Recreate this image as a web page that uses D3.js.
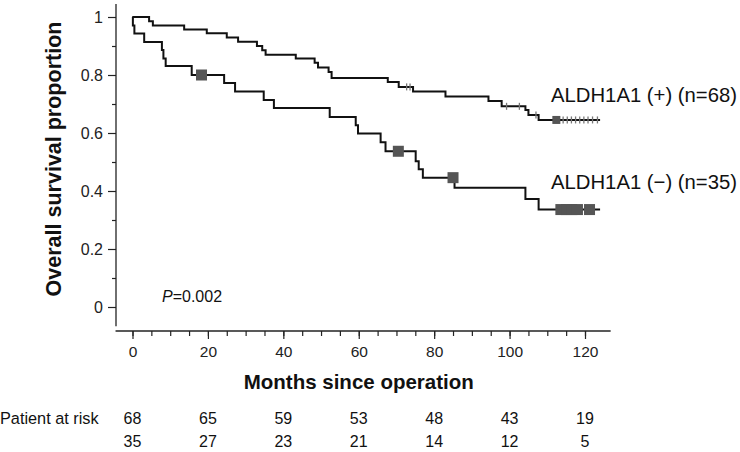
<!DOCTYPE html>
<html><head><meta charset="utf-8">
<script src="https://cdn.jsdelivr.net/npm/d3@7"></script>
<style>html,body{margin:0;padding:0;background:#fff;}svg{display:block;font-family:"Liberation Sans",Arial,sans-serif;}</style>
</head><body>
<svg id="c" width="740" height="452"></svg>
<script>
// ---- data ----
const posMonths = [0, 4.4, 5.4, 13.7, 19.7, 25, 28, 33, 34.4, 35.3, 43.3, 48.3, 49.2, 52, 52.8, 67.7, 70.6, 74.4, 83, 94.4, 97.9, 104.2, 105, 107.7];
const posSurv   = [1, 0.985, 0.971, 0.957, 0.944, 0.929, 0.915, 0.9, 0.885, 0.87, 0.857, 0.842, 0.826, 0.81, 0.79, 0.776, 0.759, 0.743, 0.726, 0.71, 0.692, 0.679, 0.662, 0.645];
const posEnd = 124;
const posCensorTicks = [72.7, 73.6, 99.2, 102.6, 107, 114.2, 115.3, 116.4, 117.5, 118.6, 119.7, 120.8, 122, 123.3];
const posCensorSquares = [112.4];

const negMonths = [0, 0.1, 0.5, 3.1, 7.8, 8.2, 8.8, 15.7, 24.3, 27.2, 34.8, 37.5, 52.3, 59.2, 59.8, 65.8, 67.1, 75.1, 75.9, 77.0, 85.4, 104.2, 107.7];
const negSurv   = [1, 0.971, 0.943, 0.914, 0.886, 0.857, 0.831, 0.8, 0.772, 0.743, 0.714, 0.686, 0.655, 0.627, 0.598, 0.568, 0.537, 0.503, 0.475, 0.446, 0.411, 0.372, 0.336];
const negEnd = 124;
const negCensorSquares = [18.3, 70.5, 85, 113.6, 115.1, 116.5, 118, 121.2];

const xMajor = [0, 20, 40, 60, 80, 100, 120];
const xMinor = d3.range(0, 125, 5);
const yMajor = [0, 0.2, 0.4, 0.6, 0.8, 1];
const yMinor = [0.1, 0.3, 0.5, 0.7, 0.9];
const yLabels = ["0", "0.2", "0.4", "0.6", "0.8", "1"];

const riskTimes = [0, 20, 40, 60, 80, 100, 120];
const riskPos = [68, 65, 59, 53, 48, 43, 19];
const riskNeg = [35, 27, 23, 21, 14, 12, 5];

const seriesLabels = ["ALDH1A1 (+) (n=68)", "ALDH1A1 (\u2212) (n=35)"];
const xTitle = "Months since operation";
const yTitle = "Overall survival proportion";

// ---- chart ----
const svg = d3.select("#c");
const x = d3.scaleLinear().domain([0, 120]).range([132.5, 585]);
const y = d3.scaleLinear().domain([0, 1]).range([307, 17]);
const axisColor = "#222";
const xAxisY = 331;

// y axis
const gy = svg.append("g").attr("transform", "translate(116,0)");
gy.append("line").attr("x1", 0).attr("x2", 0).attr("y1", y(1.045)).attr("y2", y(-0.066))
  .attr("stroke", axisColor).attr("stroke-width", 1.3);
gy.call(g => {
  const ax = d3.axisLeft(y).tickValues(yMajor).tickSize(8).tickSizeOuter(0)
    .tickFormat((d, i) => yLabels[i]);
  g.append("g").call(ax);
  const axm = d3.axisLeft(y).tickValues(yMinor).tickSize(4).tickFormat("");
  g.append("g").call(axm);
});
gy.selectAll(".domain").remove();
gy.selectAll(".tick line").attr("stroke", axisColor).attr("stroke-width", 1.2);
gy.selectAll(".tick text").attr("font-size", 16).attr("fill", "#222")
  .attr("font-family", "Liberation Sans, Arial, sans-serif").attr("x", -13);

// x axis
const gx = svg.append("g").attr("transform", `translate(0,${xAxisY})`);
gx.append("line").attr("x1", x(-4.5)).attr("x2", x(126.8)).attr("y1", 0).attr("y2", 0)
  .attr("stroke", axisColor).attr("stroke-width", 1.3);
gx.append("g").call(d3.axisBottom(x).tickValues(xMinor).tickSize(5).tickFormat(""));
gx.append("g").call(d3.axisBottom(x).tickValues(xMajor).tickSize(8).tickFormat(d3.format("d")));
gx.selectAll(".domain").remove();
gx.selectAll(".tick line").attr("stroke", axisColor).attr("stroke-width", 1.2);
gx.selectAll(".tick text").attr("font-size", 15.5).attr("fill", "#222")
  .attr("font-family", "Liberation Sans, Arial, sans-serif").attr("y", 15);

// titles
svg.append("text").attr("x", (x(0) + x(120)) / 2).attr("y", 389).attr("text-anchor", "middle")
  .attr("font-size", 20.5).attr("font-weight", "bold").attr("fill", "#111").text(xTitle);
svg.append("text").attr("transform", "translate(61,159) rotate(-90)").attr("text-anchor", "middle")
  .attr("font-size", 21.5).attr("font-weight", "bold").attr("fill", "#111").text(yTitle);

// curves
function stepAt(months, surv, t) {
  let s = surv[0];
  for (let i = 0; i < months.length; i++) if (months[i] <= t) s = surv[i];
  return s;
}
const line = d3.line().x(d => x(d[0])).y(d => y(d[1])).curve(d3.curveStepAfter);
function drawCurve(months, surv, end) {
  const pts = months.map((m, i) => [m, surv[i]]);
  pts.push([end, surv[surv.length - 1]]);
  svg.append("path").attr("d", line(pts)).attr("fill", "none").attr("stroke", "#111").attr("stroke-width", 2);
}
drawCurve(negMonths, negSurv, negEnd);
drawCurve(posMonths, posSurv, posEnd);

// censor ticks (+)
svg.append("g").selectAll("line").data(posCensorTicks).join("line")
  .attr("x1", d => x(d)).attr("x2", d => x(d))
  .attr("y1", d => y(stepAt(posMonths, posSurv, d)) - 3.5)
  .attr("y2", d => y(stepAt(posMonths, posSurv, d)) + 3.5)
  .attr("stroke", "#777").attr("stroke-width", 1.3);
// censor squares
const sqPos = 8, sqNeg = 11;
svg.append("g").selectAll("rect").data(posCensorSquares).join("rect")
  .attr("x", d => x(d) - sqPos / 2).attr("y", d => y(stepAt(posMonths, posSurv, d)) - sqPos / 2)
  .attr("width", sqPos).attr("height", sqPos).attr("fill", "#555");
svg.append("g").selectAll("rect").data(negCensorSquares).join("rect")
  .attr("x", d => x(d) - sqNeg / 2).attr("y", d => y(stepAt(negMonths, negSurv, d)) - sqNeg / 2)
  .attr("width", sqNeg).attr("height", sqNeg).attr("fill", "#555");

// series labels
svg.append("text").attr("x", 551).attr("y", 102).attr("font-size", 20.3).attr("fill", "#111").text(seriesLabels[0]);
svg.append("text").attr("x", 551).attr("y", 189).attr("font-size", 20.3).attr("fill", "#111").text(seriesLabels[1]);

// P value
const p = svg.append("text").attr("x", 162).attr("y", 302).attr("font-size", 16).attr("fill", "#111");
p.append("tspan").attr("font-style", "italic").text("P");
p.append("tspan").text("=0.002");

// risk table
svg.append("text").attr("x", 0).attr("y", 424).attr("font-size", 16.3).attr("fill", "#111").text("Patient at risk");
svg.append("g").selectAll("text").data(riskPos).join("text")
  .attr("x", (d, i) => x(riskTimes[i])).attr("y", 424).attr("text-anchor", "middle")
  .attr("font-size", 16).attr("fill", "#111").text(d => d);
svg.append("g").selectAll("text").data(riskNeg).join("text")
  .attr("x", (d, i) => x(riskTimes[i])).attr("y", 447).attr("text-anchor", "middle")
  .attr("font-size", 16).attr("fill", "#111").text(d => d);
</script>
</body></html>
